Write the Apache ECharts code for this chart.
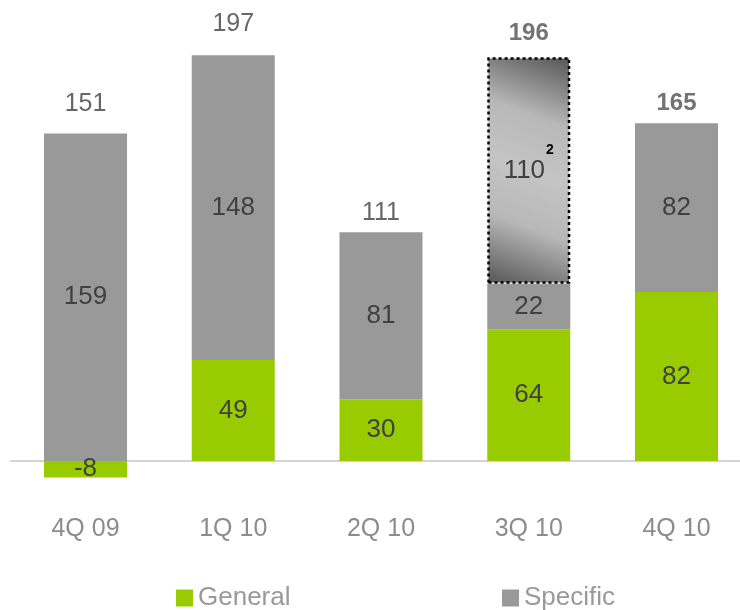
<!DOCTYPE html>
<html>
<head>
<meta charset="utf-8">
<script src="https://cdn.jsdelivr.net/npm/echarts@6/dist/echarts.min.js"></script>
<style>
html,body{margin:0;padding:0;background:#fff;}
#chart{width:740px;height:610px;}
</style>
</head>
<body>
<div id="chart"></div>
<script>
var categories = ['4Q 09', '1Q 10', '2Q 10', '3Q 10', '4Q 10'];
var general = [-8, 49, 30, 64, 82];
var specific = [159, 148, 81, 22, 82];
var specificExtra = ['-', '-', '-', 110, '-'];
var totals = [151, 197, 111, 196, 165];
var totalsBold = [false, false, false, true, true];
var totalGap = [29, 31, 19, 24, 20];

var FONT = 'Liberation Sans, Arial, sans-serif';
var GREEN = '#99cc00';
var GRAY = '#999999';

var stackTops = categories.map(function (c, i) {
  var g = general[i] > 0 ? general[i] : 0;
  var e = typeof specificExtra[i] === 'number' ? specificExtra[i] : 0;
  return g + specific[i] + e;
});

var insideLabel = {
  show: true,
  position: 'inside',
  fontFamily: FONT,
  fontSize: 26,
  color: '#404040'
};

var chart = echarts.init(document.getElementById('chart'), null, {renderer: 'canvas'});
chart.setOption({
  animation: false,
  backgroundColor: '#fff',
  textStyle: {fontFamily: FONT},
  grid: [
    {left: 85.5, right: 63.5, top: 28.4, bottom: 107.8, containLabel: false},
    {left: 11, right: 0, top: 28.4, bottom: 107.8, containLabel: false}
  ],
  legend: [
    {
      data: ['General'], left: 176, top: 585, padding: 0, icon: 'rect', itemWidth: 17, itemHeight: 17, itemGap: 0,
      textStyle: {fontFamily: FONT, fontSize: 26, color: '#999999'}
    },
    {
      data: ['Specific'], left: 502, top: 585, padding: 0, icon: 'rect', itemWidth: 17, itemHeight: 17, itemGap: 0,
      textStyle: {fontFamily: FONT, fontSize: 26, color: '#999999'}
    }
  ],
  xAxis: [
    {
      type: 'category',
      gridIndex: 0,
      data: categories,
      boundaryGap: false,
      axisLine: {show: false},
      axisTick: {show: false},
      axisLabel: {margin: 14, fontFamily: FONT, fontSize: 25, color: '#8c8c8c'},
      splitLine: {show: false}
    },
    {
      type: 'value',
      gridIndex: 1,
      min: 0, max: 1,
      axisLine: {show: true, onZero: true, lineStyle: {color: '#d4d4d4', width: 2}},
      axisTick: {show: false},
      axisLabel: {show: false},
      splitLine: {show: false}
    }
  ],
  yAxis: [
    {type: 'value', gridIndex: 0, min: -20, max: 210, show: false, splitLine: {show: false}},
    {type: 'value', gridIndex: 1, min: -20, max: 210, show: false, splitLine: {show: false}}
  ],
  series: [
    {
      name: 'General', type: 'bar', stack: 'total', barWidth: 83,
      data: general,
      itemStyle: {color: GREEN},
      label: insideLabel
    },
    {
      name: 'Specific', type: 'bar', stack: 'total', barWidth: 83,
      data: specific,
      itemStyle: {color: GRAY},
      label: insideLabel
    },
    {
      name: 'SpecificExtra', type: 'bar', stack: 'total', barWidth: 83,
      data: specificExtra,
      itemStyle: {
        color: {
          type: 'linear', x: 1, y: 0, x2: 0, y2: 1,
          colorStops: [
            {offset: 0, color: '#555555'},
            {offset: 0.28, color: '#b8b8b8'},
            {offset: 0.5, color: '#c4c4c4'},
            {offset: 0.72, color: '#b8b8b8'},
            {offset: 1, color: '#555555'}
          ]
        },
        borderColor: '#000',
        borderWidth: 2.5,
        borderType: [3, 3]
      },
      label: {
        show: true,
        position: 'inside',
        formatter: function (p) { return '{n|' + p.value + '}{s|2}'; },
        rich: {
          n: {fontFamily: FONT, fontSize: 26, color: '#404040'},
          s: {fontFamily: FONT, fontSize: 14, fontWeight: 'bold', color: '#000', padding: [0, 0, 40, 1]}
        }
      }
    },
    {
      name: 'Totals', type: 'scatter', symbolSize: 0, silent: true,
      data: stackTops.map(function (v, i) {
        return {
          value: v,
          label: {
            show: true,
            position: 'inside',
            offset: [0, -totalGap[i]],
            formatter: String(totals[i]),
            fontFamily: FONT,
            fontSize: totalsBold[i] ? 24 : 25,
            fontWeight: totalsBold[i] ? 'bold' : 'normal',
            color: totalsBold[i] ? '#505050' : '#404040'
          }
        };
      })
    }
  ]
});
</script>
</body>
</html>
